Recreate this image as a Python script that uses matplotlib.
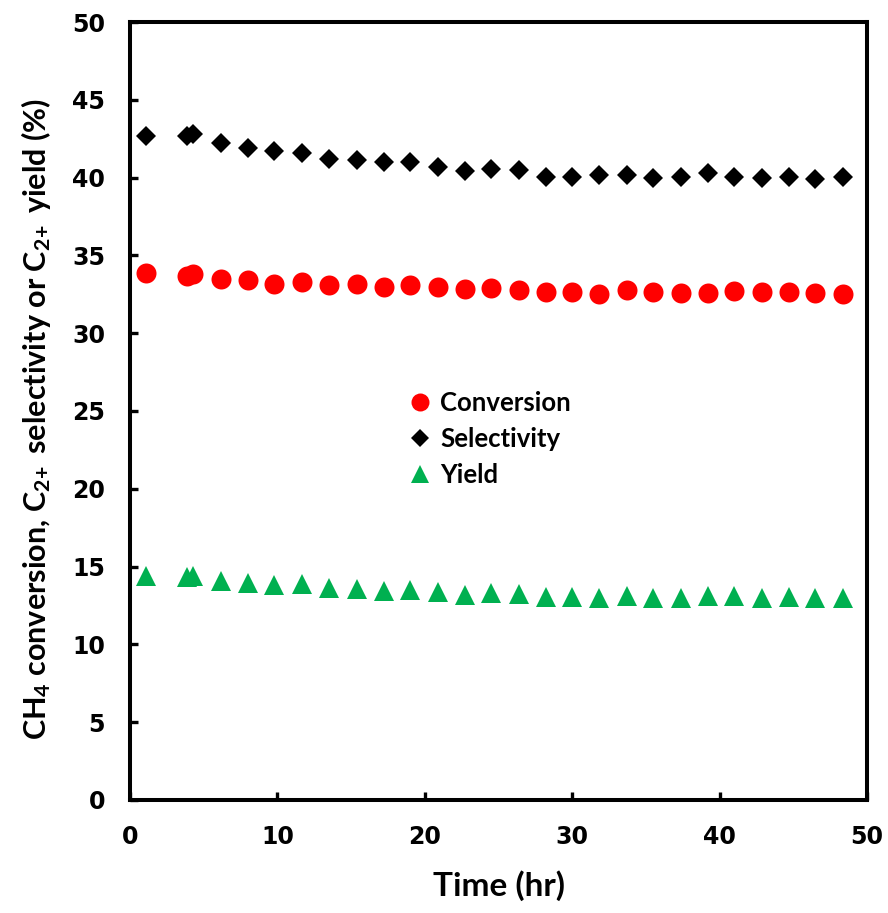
import matplotlib
matplotlib.use("Agg")
import matplotlib.pyplot as plt

# time on stream (hr)
time_hr = [1.1, 3.9, 4.3, 6.2, 8.0, 9.8, 11.7, 13.5, 15.4, 17.2, 19.0, 20.9, 22.7, 24.5,
           26.4, 28.2, 30.0, 31.8, 33.7, 35.5, 37.4, 39.2, 41.0, 42.9, 44.7, 46.5, 48.4]

conversion = [33.9, 33.7, 33.8, 33.5, 33.4, 33.15, 33.3, 33.1, 33.15, 33.0, 33.1, 32.95, 32.85, 32.9,
              32.75, 32.65, 32.65, 32.5, 32.75, 32.65, 32.6, 32.6, 32.7, 32.65, 32.65, 32.6, 32.5]

selectivity = [42.7, 42.7, 42.8, 42.2, 41.9, 41.7, 41.6, 41.2, 41.1, 41.0, 41.0, 40.7, 40.4, 40.55,
               40.5, 40.05, 40.05, 40.15, 40.15, 39.95, 40.05, 40.3, 40.05, 40.0, 40.05, 39.9, 40.05]

yield_ = [14.4, 14.35, 14.4, 14.1, 13.95, 13.8, 13.85, 13.65, 13.55, 13.45, 13.5, 13.35, 13.2, 13.3,
          13.25, 13.05, 13.05, 13.0, 13.1, 13.0, 13.0, 13.1, 13.1, 13.0, 13.05, 12.95, 12.95]

plt.rcParams["mathtext.default"] = "regular"

fig = plt.figure(figsize=(8.88, 9.13), dpi=100)
ax = fig.add_axes([0.1464, 0.1238, 0.8300, 0.8521])

ax.plot(time_hr, conversion, "o", color="#FF0000", ms=14.4, mew=0, label="Conversion")
ax.plot(time_hr, selectivity, "D", color="black", ms=10.2, mew=0, label="Selectivity")
ax.plot(time_hr, yield_, "^", color="#00B050", ms=14.4, mew=0, label="Yield")

ax.set_xlim(0, 50)
ax.set_ylim(0, 50)
ax.set_xticks(range(0, 51, 10))
ax.set_yticks(range(0, 51, 5))

for s in ax.spines.values():
    s.set_linewidth(2.9)
ax.tick_params(direction="in", length=6, width=2.4, labelsize=17)
ax.tick_params(axis="x", pad=18)
ax.tick_params(axis="y", pad=18)
for lab in ax.get_xticklabels() + ax.get_yticklabels():
    lab.set_fontweight("bold")

lbl = dict(family="Lato", fontweight="bold")
ax.set_ylabel(r"CH$_4$ conversion, C$_{2\!+}$ selectivity or C$_{2\!+}$ yield (%)",
              fontsize=22, va="center", **lbl)
ax.yaxis.set_label_coords(-0.128, 0.49)
ax.set_xlabel("Time (hr)", fontsize=24, va="center", **lbl)
ax.xaxis.set_label_coords(0.5, -0.110)

leg = ax.legend(loc="upper left", bbox_to_anchor=(0.348, 0.556), frameon=False,
                prop=dict(family="Lato", weight="bold", size=18.5),
                handlelength=0.8, handletextpad=0.4, labelspacing=0.48, markerscale=0.9)

fig.savefig("out.png", dpi=100)
